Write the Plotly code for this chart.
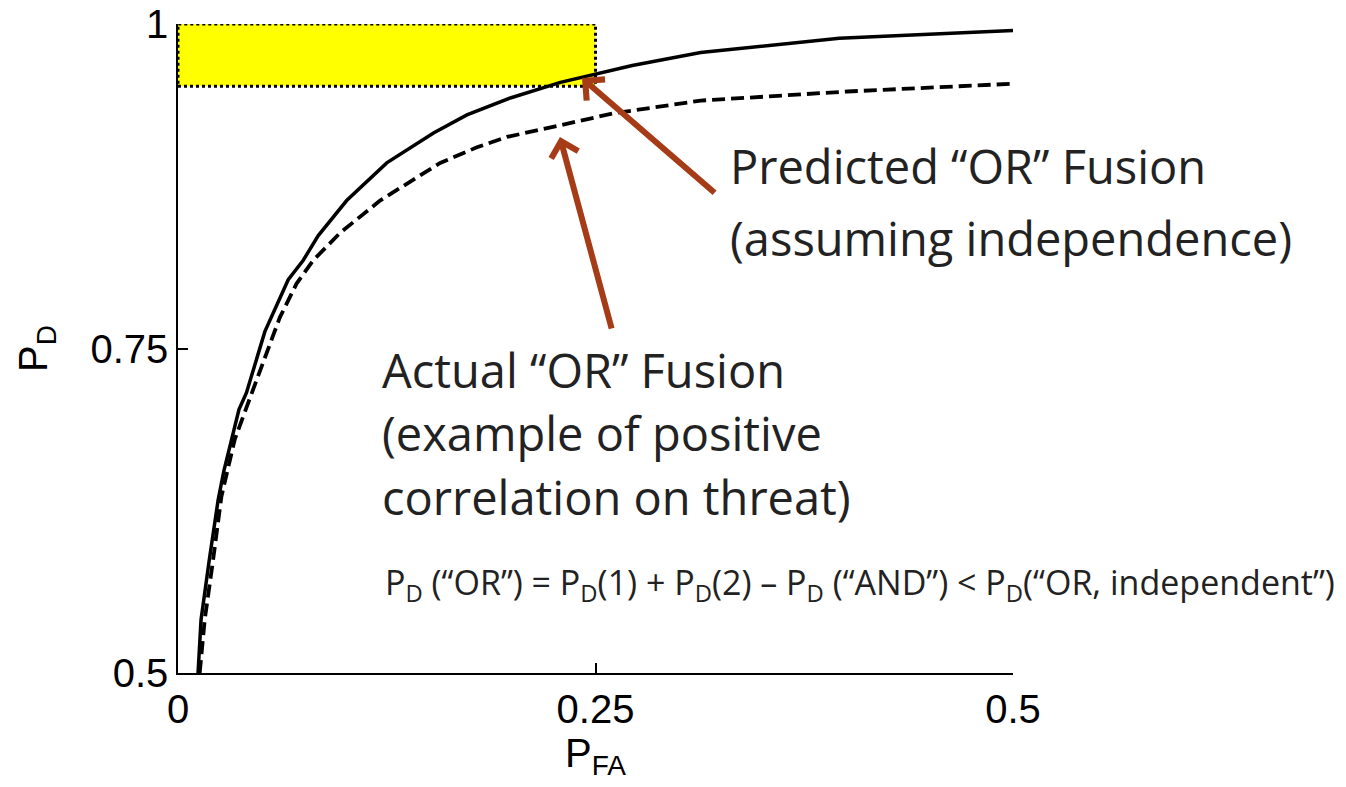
import plotly.graph_objects as go

# Predicted "OR" fusion (assuming independence) - solid
pfa_pred = [0.012, 0.0138, 0.0186, 0.024, 0.0275, 0.0365, 0.041, 0.052, 0.066, 0.075, 0.084,
            0.101, 0.125, 0.153, 0.173, 0.199, 0.229, 0.251, 0.272, 0.313, 0.396, 0.5]
pd_pred = [0.5, 0.541, 0.586, 0.633, 0.656, 0.703, 0.716, 0.763, 0.803, 0.818, 0.837,
           0.864, 0.893, 0.916, 0.930, 0.943, 0.955, 0.962, 0.968, 0.978, 0.989, 0.995]

# Actual "OR" fusion - dashed
pfa_act = [0.013, 0.016, 0.021, 0.026, 0.034, 0.043, 0.046, 0.061, 0.071, 0.081, 0.097,
           0.121, 0.141, 0.157, 0.179, 0.197, 0.229, 0.260, 0.313, 0.401, 0.5]
pd_act = [0.5, 0.541, 0.587, 0.636, 0.680, 0.713, 0.722, 0.774, 0.800, 0.818, 0.839,
          0.864, 0.880, 0.893, 0.905, 0.913, 0.922, 0.931, 0.941, 0.948, 0.954]

# Highlight region
box_x = [0.0, 0.25]
box_y = [0.952, 1.0]

x_ticks = [0, 0.25, 0.5]
x_tick_labels = ["0", "0.25", "0.5"]
y_ticks = [0.5, 0.75, 1]
y_tick_labels = ["0.5", "0.75", "1"]

arrow_color = "#A63C17"
text_font = dict(family="Open Sans", size=47, color="#222222")

fig = go.Figure()

fig.add_shape(type="rect", x0=box_x[0], x1=box_x[1], y0=box_y[0], y1=box_y[1],
              xref="x", yref="y", fillcolor="#FFFF00",
              line=dict(color="black", width=3, dash="dot"), layer="below")

fig.add_trace(go.Scatter(x=pfa_pred, y=pd_pred, mode="lines",
                         line=dict(color="black", width=3.5), showlegend=False, cliponaxis=False))
fig.add_trace(go.Scatter(x=pfa_act, y=pd_act, mode="lines",
                         line=dict(color="black", width=3.8, dash="13px,6px"), showlegend=False, cliponaxis=False))

annotations = [
    dict(x=0.3293, y=0.8906, text="Predicted “OR” Fusion"),
    dict(x=0.3293, y=0.8351, text="(assuming independence)"),
    dict(x=0.121, y=0.7334, text="Actual “OR” Fusion"),
    dict(x=0.121, y=0.6849, text="(example of positive"),
    dict(x=0.121, y=0.6356, text="correlation on threat)"),
]
for a in annotations:
    fig.add_annotation(x=a["x"], y=a["y"], text=a["text"], xref="x", yref="y",
                       xanchor="left", yanchor="middle", showarrow=False, font=text_font)

fig.add_annotation(x=0.1228, y=0.5685, xref="x", yref="y", xanchor="left", yanchor="middle",
                   showarrow=False,
                   text="P<sub>D</sub> (“OR”) = P<sub>D</sub>(1) + P<sub>D</sub>(2) – P<sub>D</sub> (“AND”) &lt; P<sub>D</sub>(“OR, independent”)",
                   font=dict(family="Open Sans", size=34, color="#222222"))

# Arrows
fig.add_annotation(x=0.2419, y=0.9584, ax=0.3222, ay=0.869, xref="x", yref="y", axref="x", ayref="y",
                   text="", showarrow=True, arrowhead=4, arrowsize=0.9, arrowwidth=6, arrowcolor=arrow_color)
fig.add_annotation(x=0.2287, y=0.9129, ax=0.2599, ay=0.7643, xref="x", yref="y", axref="x", ayref="y",
                   text="", showarrow=True, arrowhead=4, arrowsize=0.9, arrowwidth=6, arrowcolor=arrow_color)

axis_font = dict(family="Liberation Sans", size=40, color="black")
fig.update_layout(
    width=1346, height=787,
    margin=dict(l=178, r=333, t=24, b=114),
    paper_bgcolor="white", plot_bgcolor="white",
    xaxis=dict(range=[0, 0.5], tickvals=x_ticks, ticktext=x_tick_labels, ticks="inside", ticklen=10,
               tickcolor="black", tickwidth=1.5, showline=True, linecolor="black", linewidth=1.5,
               showgrid=False, zeroline=False, tickfont=axis_font, automargin=False,
               title=dict(text="P<sub>FA</sub>", font=axis_font, standoff=0)),
    yaxis=dict(range=[0.5, 1], tickvals=y_ticks, ticktext=y_tick_labels, ticks="inside", ticklen=10,
               tickcolor="black", tickwidth=1.5, showline=True, linecolor="black", linewidth=1.5,
               showgrid=False, zeroline=False, tickfont=axis_font, automargin=False,
               title=dict(text="P<sub>D</sub>", font=axis_font, standoff=30)),
)

fig.write_html("out.html")
